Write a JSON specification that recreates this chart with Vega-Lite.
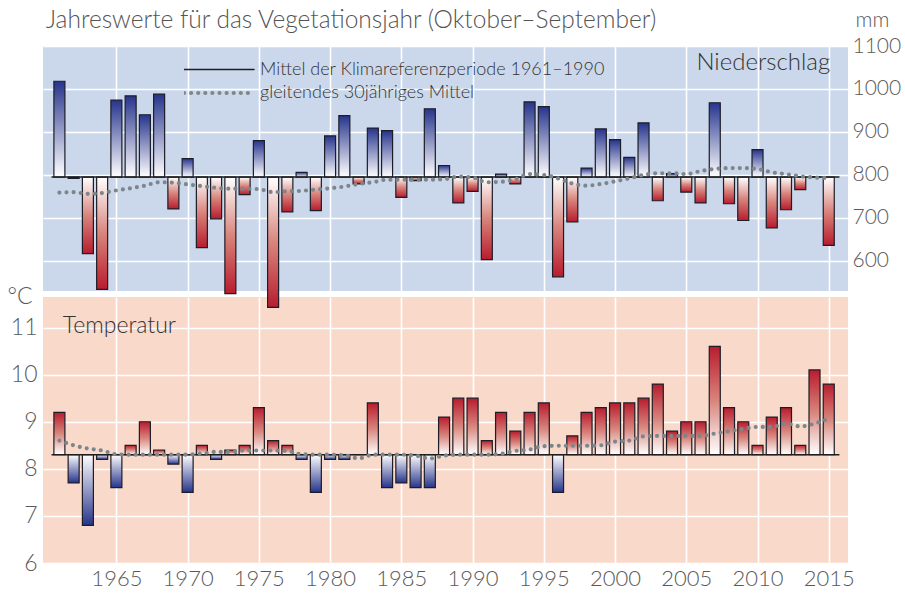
{
  "$schema": "https://vega.github.io/schema/vega-lite/v6.json",
  "padding": {"left": 7, "top": 7, "right": 5, "bottom": 5},
  "background": "white",
  "config": {
    "font": "Lato",
    "view": {"stroke": null},
    "axis": {"labelFont": "Lato", "labelFontWeight": 300, "labelColor": "#5a5a5a", "titleFont": "Lato", "titleFontWeight": 300, "titleColor": "#5a5a5a", "gridColor": "#ffffff", "gridWidth": 1.6, "gridOpacity": 1, "domain": false, "ticks": false, "labelFlush": false}
  },
  "title": {"text": "Jahreswerte für das Vegetationsjahr (Oktober–September)", "anchor": "start", "font": "Lato", "fontWeight": 300, "fontSize": 24.5, "color": "#555555", "offset": -24, "dx": 39},
  "data": {"values": [
    {"year": 1961, "p": 1018, "pm": 759, "t": 9.2, "tm": 8.6},
    {"year": 1962, "p": 792, "pm": 760, "t": 7.7, "tm": 8.5},
    {"year": 1963, "p": 617, "pm": 756, "t": 6.8, "tm": 8.43},
    {"year": 1964, "p": 534, "pm": 758, "t": 8.2, "tm": 8.39},
    {"year": 1965, "p": 974, "pm": 764, "t": 7.6, "tm": 8.31},
    {"year": 1966, "p": 984, "pm": 769, "t": 8.5, "tm": 8.3},
    {"year": 1967, "p": 940, "pm": 775, "t": 9.0, "tm": 8.3},
    {"year": 1968, "p": 988, "pm": 783, "t": 8.4, "tm": 8.3},
    {"year": 1969, "p": 721, "pm": 782, "t": 8.1, "tm": 8.3},
    {"year": 1970, "p": 838, "pm": 778, "t": 7.5, "tm": 8.3},
    {"year": 1971, "p": 631, "pm": 774, "t": 8.5, "tm": 8.33},
    {"year": 1972, "p": 698, "pm": 770, "t": 8.2, "tm": 8.36},
    {"year": 1973, "p": 524, "pm": 768, "t": 8.4, "tm": 8.36},
    {"year": 1974, "p": 754, "pm": 768, "t": 8.5, "tm": 8.39},
    {"year": 1975, "p": 880, "pm": 767, "t": 9.3, "tm": 8.39},
    {"year": 1976, "p": 492, "pm": 760, "t": 8.6, "tm": 8.39},
    {"year": 1977, "p": 714, "pm": 762, "t": 8.5, "tm": 8.38},
    {"year": 1978, "p": 806, "pm": 763, "t": 8.2, "tm": 8.31},
    {"year": 1979, "p": 717, "pm": 766, "t": 7.5, "tm": 8.3},
    {"year": 1980, "p": 891, "pm": 769, "t": 8.2, "tm": 8.3},
    {"year": 1981, "p": 938, "pm": 773, "t": 8.2, "tm": 8.29},
    {"year": 1982, "p": 779, "pm": 779, "t": 8.3, "tm": 8.22},
    {"year": 1983, "p": 909, "pm": 783, "t": 9.4, "tm": 8.3},
    {"year": 1984, "p": 903, "pm": 789, "t": 7.6, "tm": 8.3},
    {"year": 1985, "p": 748, "pm": 789, "t": 7.7, "tm": 8.3},
    {"year": 1986, "p": 787, "pm": 789, "t": 7.6, "tm": 8.28},
    {"year": 1987, "p": 954, "pm": 789, "t": 7.6, "tm": 8.22},
    {"year": 1988, "p": 822, "pm": 790, "t": 9.1, "tm": 8.28},
    {"year": 1989, "p": 735, "pm": 796, "t": 9.5, "tm": 8.3},
    {"year": 1990, "p": 762, "pm": 794, "t": 9.5, "tm": 8.3},
    {"year": 1991, "p": 603, "pm": 783, "t": 8.6, "tm": 8.3},
    {"year": 1992, "p": 802, "pm": 784, "t": 9.2, "tm": 8.32},
    {"year": 1993, "p": 779, "pm": 790, "t": 8.8, "tm": 8.38},
    {"year": 1994, "p": 970, "pm": 802, "t": 9.2, "tm": 8.41},
    {"year": 1995, "p": 959, "pm": 800, "t": 9.4, "tm": 8.48},
    {"year": 1996, "p": 563, "pm": 792, "t": 7.5, "tm": 8.49},
    {"year": 1997, "p": 691, "pm": 780, "t": 8.7, "tm": 8.49},
    {"year": 1998, "p": 816, "pm": 775, "t": 9.2, "tm": 8.49},
    {"year": 1999, "p": 907, "pm": 779, "t": 9.3, "tm": 8.5},
    {"year": 2000, "p": 882, "pm": 785, "t": 9.4, "tm": 8.58},
    {"year": 2001, "p": 841, "pm": 792, "t": 9.4, "tm": 8.6},
    {"year": 2002, "p": 921, "pm": 800, "t": 9.5, "tm": 8.69},
    {"year": 2003, "p": 740, "pm": 804, "t": 9.8, "tm": 8.7},
    {"year": 2004, "p": 803, "pm": 804, "t": 8.8, "tm": 8.7},
    {"year": 2005, "p": 760, "pm": 802, "t": 9.0, "tm": 8.7},
    {"year": 2006, "p": 735, "pm": 809, "t": 9.0, "tm": 8.7},
    {"year": 2007, "p": 968, "pm": 814, "t": 10.6, "tm": 8.75},
    {"year": 2008, "p": 733, "pm": 816, "t": 9.3, "tm": 8.8},
    {"year": 2009, "p": 694, "pm": 816, "t": 9.0, "tm": 8.85},
    {"year": 2010, "p": 859, "pm": 814, "t": 8.5, "tm": 8.89},
    {"year": 2011, "p": 677, "pm": 806, "t": 9.1, "tm": 8.89},
    {"year": 2012, "p": 719, "pm": 802, "t": 9.3, "tm": 8.96},
    {"year": 2013, "p": 766, "pm": 797, "t": 8.5, "tm": 8.9},
    {"year": 2014, "p": 796, "pm": 794, "t": 10.1, "tm": 8.96},
    {"year": 2015, "p": 636, "pm": 793, "t": 9.8, "tm": 9.07}
  ]},
  "bounds": "flush",
  "spacing": 6,
  "vconcat": [
    {
      "width": 805,
      "height": 245,
      "view": {"fill": "#cbd8eb", "stroke": null},
      "layer": [
        {
          "transform": [{"filter": "datum.p >= 795"}],
          "mark": {"type": "bar", "width": 11, "clip": false, "stroke": "#1d1d28", "strokeWidth": 1.2,
            "fill": {"gradient": "linear", "x1": 0, "y1": 0, "x2": 0, "y2": 1, "stops": [{"offset": 0, "color": "#26348c"}, {"offset": 1, "color": "#ffffff"}]}},
          "encoding": {
            "x": {"field": "year", "type": "quantitative", "scale": {"domain": [1960.2, 2016], "nice": false, "zero": false},
              "axis": {"values": [1965, 1970, 1975, 1980, 1985, 1990, 1995, 2000, 2005, 2010, 2015], "labels": false, "title": null, "grid": true}},
            "y": {"field": "p", "type": "quantitative", "scale": {"domain": [530, 1100], "nice": false, "zero": false},
              "axis": {"orient": "right", "values": [600, 700, 800, 900, 1000, 1100], "format": "d", "labelFontSize": 21, "labelPadding": 4, "grid": true,
                "title": "mm", "titleAngle": 0, "titleAlign": "left", "titleBaseline": "middle", "titleX": 7, "titleY": -26, "titleFontSize": 21}},
            "y2": {"datum": 795}
          }
        },
        {
          "transform": [{"filter": "datum.p < 795"}],
          "mark": {"type": "bar", "width": 11, "clip": false, "stroke": "#1d1d28", "strokeWidth": 1.2,
            "fill": {"gradient": "linear", "x1": 0, "y1": 0, "x2": 0, "y2": 1, "stops": [{"offset": 0, "color": "#ffffff"}, {"offset": 0.5, "color": "#d8857c"}, {"offset": 1, "color": "#b81c2e"}]}},
          "encoding": {
            "x": {"field": "year", "type": "quantitative"},
            "y": {"field": "p", "type": "quantitative"},
            "y2": {"datum": 795}
          }
        },
        {
          "data": {"values": [{}]},
          "mark": {"type": "rule", "strokeWidth": 1.5},
          "encoding": {
            "x": {"datum": 1960.45}, "x2": {"datum": 2015.75},
            "y": {"datum": 795},
            "color": {"datum": "Mittel der Klimareferenzperiode 1961–1990", "type": "nominal",
              "scale": {"domain": ["Mittel der Klimareferenzperiode 1961–1990", "gleitendes 30jähriges Mittel"], "range": ["#1f1f1f", "#7d868a"]},
              "legend": {"orient": "none", "legendX": 141, "legendY": 12, "title": null, "padding": 0, "symbolType": "stroke", "symbolSize": 4900, "clipHeight": 23, "rowPadding": 0.5, "labelFont": "Lato", "labelFontWeight": 300, "labelFontSize": 18, "labelColor": "#333333", "labelOffset": 58, "labelLimit": 500,
                "encode": {"symbols": {"update": {
                  "x": {"value": 35},
                  "strokeWidth": {"signal": "datum.value == 'gleitendes 30jähriges Mittel' ? 4.2 : 1.5"},
                  "strokeDash": {"signal": "datum.value == 'gleitendes 30jähriges Mittel' ? [0, 7.1] : [1, 0]"},
                  "strokeCap": {"value": "round"}}}}}
            }
          }
        },
        {
          "mark": {"type": "line", "strokeWidth": 4.2, "strokeDash": [0, 7.1], "strokeCap": "round", "interpolate": "monotone"},
          "encoding": {
            "x": {"field": "year", "type": "quantitative"},
            "y": {"field": "pm", "type": "quantitative"},
            "color": {"datum": "gleitendes 30jähriges Mittel", "type": "nominal"}
          }
        },
        {
          "data": {"values": [{}]},
          "mark": {"type": "text", "align": "right", "baseline": "middle", "font": "Lato", "fontWeight": 300, "fontSize": 24, "fill": "#333333"},
          "encoding": {
            "x": {"datum": 2015.1}, "y": {"datum": 1060},
            "text": {"value": "Niederschlag"}
          }
        }
      ]
    },
    {
      "width": 805,
      "height": 266,
      "view": {"fill": "#f9d9c9", "stroke": null},
      "resolve": {"scale": {"y": "independent"}},
      "layer": [
        {
          "layer": [
            {
              "transform": [{"filter": "datum.t >= 8.3"}],
              "mark": {"type": "bar", "width": 11, "clip": false, "stroke": "#1d1d28", "strokeWidth": 1.2,
                "fill": {"gradient": "linear", "x1": 0, "y1": 0, "x2": 0, "y2": 1, "stops": [{"offset": 0, "color": "#b81c2e"}, {"offset": 0.5, "color": "#d8857c"}, {"offset": 1, "color": "#ffffff"}]}},
              "encoding": {
                "x": {"field": "year", "type": "quantitative", "scale": {"domain": [1960.2, 2016], "nice": false, "zero": false},
                  "axis": {"values": [1965, 1970, 1975, 1980, 1985, 1990, 1995, 2000, 2005, 2010, 2015], "format": "d", "labelFontSize": 22, "labelPadding": 5, "title": null, "grid": true}},
                "y": {"field": "t", "type": "quantitative", "scale": {"domain": [6, 11.65], "nice": false, "zero": false},
                  "axis": {"orient": "left", "values": [6, 7, 8, 9, 10, 11], "labelFontSize": 23, "labelPadding": 6, "grid": true,
                    "title": "°C", "titleAngle": 0, "titleAlign": "left", "titleBaseline": "middle", "titleX": -36, "titleY": -1, "titleFontSize": 23}},
                "y2": {"datum": 8.3}
              }
            },
            {
              "transform": [{"filter": "datum.t < 8.3"}],
              "mark": {"type": "bar", "width": 11, "clip": false, "stroke": "#1d1d28", "strokeWidth": 1.2,
                "fill": {"gradient": "linear", "x1": 0, "y1": 0, "x2": 0, "y2": 1, "stops": [{"offset": 0, "color": "#ffffff"}, {"offset": 1, "color": "#26348c"}]}},
              "encoding": {
                "x": {"field": "year", "type": "quantitative"},
                "y": {"field": "t", "type": "quantitative"},
                "y2": {"datum": 8.3}
              }
            },
            {
              "data": {"values": [{}]},
              "mark": {"type": "rule", "strokeWidth": 1.5, "color": "#1f1f1f"},
              "encoding": {
                "x": {"datum": 1960.45}, "x2": {"datum": 2015.75},
                "y": {"datum": 8.3}
              }
            },
            {
              "mark": {"type": "line", "strokeWidth": 4.2, "strokeDash": [0, 7.1], "strokeCap": "round", "interpolate": "monotone", "color": "#7d868a"},
              "encoding": {
                "x": {"field": "year", "type": "quantitative"},
                "y": {"field": "tm", "type": "quantitative"}
              }
            },
            {
              "data": {"values": [{}]},
              "mark": {"type": "text", "align": "left", "baseline": "middle", "font": "Lato", "fontWeight": 300, "fontSize": 23, "fill": "#333333"},
              "encoding": {
                "x": {"datum": 1961.24}, "y": {"datum": 11.03},
                "text": {"value": "Temperatur"}
              }
            }
          ]
        },
        {
          "transform": [{"filter": "datum.p < 795"}],
          "mark": {"type": "bar", "width": 11, "clip": true, "stroke": "#1d1d28", "strokeWidth": 1.2,
            "fill": {"gradient": "linear", "x1": 0, "y1": 0, "x2": 0, "y2": 1, "stops": [{"offset": 0, "color": "#ffffff"}, {"offset": 0.5, "color": "#d8857c"}, {"offset": 1, "color": "#b81c2e"}]}},
          "encoding": {
            "x": {"field": "year", "type": "quantitative"},
            "y": {"field": "p", "type": "quantitative", "scale": {"domain": [-102.8, 516.04], "nice": false, "zero": false}, "axis": null},
            "y2": {"datum": 795}
          }
        }
      ]
    }
  ],
  "resolve": {"scale": {"color": "independent"}}
}
